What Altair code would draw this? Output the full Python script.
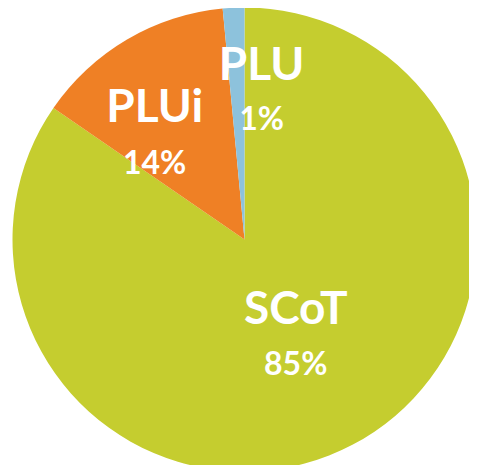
import altair as alt
import pandas as pd

categories = ["SCoT", "PLUi", "PLU"]
values = [84.6, 13.9, 1.5]
pct_labels = ["85%", "14%", "1%"]
colors = ["#C5CD2F", "#EF8025", "#8DC2DC"]

df = pd.DataFrame({
    "cat": categories,
    "value": values,
    "pct": pct_labels,
    "order": list(range(len(categories))),
})

CX, CY, R = 236.5, 231.5, 232
theta_scale = alt.Scale(domain=[0, 100])

base = (
    alt.Chart(df)
    .transform_stack(stack="value", groupby=[], as_=["start", "end"],
                     sort=[alt.SortField("order")])
    .transform_calculate(mid="(datum.start + datum.end) / 2")
)

arcs = base.mark_arc(radius=R).encode(
    theta=alt.Theta("start:Q", scale=theta_scale),
    theta2="end:Q",
    color=alt.Color("cat:N", scale=alt.Scale(domain=categories, range=colors), legend=None),
    x=alt.value(CX),
    y=alt.value(CY),
)

# label placement style per category: (radius, dx, name dy, pct dy)
label_style = {
    "SCoT": (108, 1, -25, 30),
    "PLUi": (136, -21, -14, 42),
    "PLU": (147, 24, -27, 27),
}

layers = [arcs]
for c in categories:
    r, dx, dy_name, dy_pct = label_style[c]
    sub = base.transform_filter(alt.datum.cat == c)
    name = sub.mark_text(radius=r, dx=dx, dy=dy_name, font="Lato", fontWeight="bold",
                         fontSize=46, color="white", baseline="middle", align="center").encode(
        theta=alt.Theta("mid:Q", scale=theta_scale),
        text="cat:N",
        x=alt.value(CX),
        y=alt.value(CY),
    )
    pct = sub.mark_text(radius=r, dx=dx, dy=dy_pct, font="Lato", fontWeight="bold",
                        fontSize=32, color="white", baseline="middle", align="center").encode(
        theta=alt.Theta("mid:Q", scale=theta_scale),
        text="pct:N",
        x=alt.value(CX),
        y=alt.value(CY),
    )
    layers += [name, pct]

chart = alt.layer(*layers).properties(
    width=461, height=457, padding=0, autosize=alt.AutoSizeParams(type="none")
).configure_view(stroke=None)

chart.save("out.html", embed_options={"renderer": "svg", "actions": False})
